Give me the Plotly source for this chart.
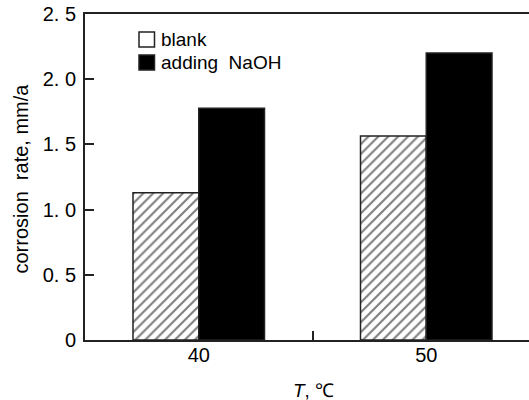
import plotly.graph_objects as go

categories = ["40", "50"]
blank = [1.13, 1.565]
adding_naoh = [1.777, 2.20]
y_ticks = [0, 0.5, 1.0, 1.5, 2.0, 2.5]
y_tick_labels = ["0", "0. 5", "1. 0", "1. 5", "2. 0", "2. 5"]

xpos = list(range(len(categories)))
FONT = "Liberation Sans, Arial, sans-serif"

fig = go.Figure()
fig.add_trace(go.Bar(
    x=xpos, y=blank, name="blank",
    marker=dict(color="white",
                line=dict(color="#222", width=1.5),
                pattern=dict(shape="/", size=7, solidity=0.3,
                             fgcolor="black", bgcolor="white")),
    showlegend=False,
))
fig.add_trace(go.Bar(
    x=xpos, y=adding_naoh, name="adding NaOH",
    marker=dict(color="black", line=dict(color="#222", width=1.5)),
    showlegend=False,
))

# the plot frame extends slightly past the 529px window, as in the reference
fig.update_layout(
    width=545, height=400,
    margin=dict(l=85, r=5, t=14, b=60, autoexpand=False),
    paper_bgcolor="white", plot_bgcolor="white",
    barmode="group", bargap=0.422, bargroupgap=0,
    font=dict(family=FONT, size=20, color="black"),
)
fig.update_xaxes(
    range=[-0.5, 1.5], automargin=False,
    tickvals=xpos, ticktext=categories,
    ticks="", showgrid=False, zeroline=False,
    showline=True, linecolor="#222", linewidth=2, mirror=True,
    tickfont=dict(size=20), ticklabelstandoff=-4,
    minor=dict(tickvals=[0.5], ticks="inside", ticklen=9, tickwidth=1.5, tickcolor="#222", showgrid=False),
)
fig.update_yaxes(
    range=[0, 2.5], automargin=False,
    tickvals=y_ticks, ticktext=y_tick_labels,
    ticks="inside", ticklen=9, tickwidth=1.5, tickcolor="#222",
    showgrid=False, zeroline=False,
    showline=True, linecolor="#222", linewidth=2, mirror=False,
    tickfont=dict(size=20), ticklabelstandoff=3,
)

# paper-coordinate helpers (plot area: x 85..540 px, y 14..340 px)
def px_x(p):
    return (p - 85) / 455.0

def px_y(p):
    return (340 - p) / 326.0

# axis titles
fig.add_annotation(xref="paper", yref="paper", x=px_x(313), y=px_y(390),
                   xanchor="center", yanchor="middle", showarrow=False,
                   text="<i>T</i>, ℃", font=dict(size=19, family=FONT, color="black"))
fig.add_annotation(xref="paper", yref="paper", x=px_x(20), y=px_y(178.5),
                   xanchor="center", yanchor="middle", showarrow=False, textangle=-90,
                   text="corrosion\u00a0 rate, mm/a", font=dict(size=20, family=FONT, color="black"))

# legend drawn manually (16px squares as in reference)
legend_items = [("blank", "white", 39.5), ("adding\u00a0 NaOH", "black", 62.5)]
for label, fill, cy in legend_items:
    fig.add_shape(type="rect", xref="paper", yref="paper",
                  x0=px_x(139), x1=px_x(154.5), y0=px_y(cy + 7.5), y1=px_y(cy - 7.5),
                  fillcolor=fill, line=dict(color="#222", width=1.5))
    fig.add_annotation(xref="paper", yref="paper", x=px_x(159), y=px_y(cy),
                       xanchor="left", yanchor="middle", showarrow=False,
                       text=label, font=dict(size=19, family=FONT, color="black"))

fig.write_html(
    "out.html",
    config={"displayModeBar": False},
    post_script=(
        "document.body.style.margin='0';"
        "document.body.style.overflow='hidden';"
        "document.documentElement.style.overflow='hidden';"
    ),
)
